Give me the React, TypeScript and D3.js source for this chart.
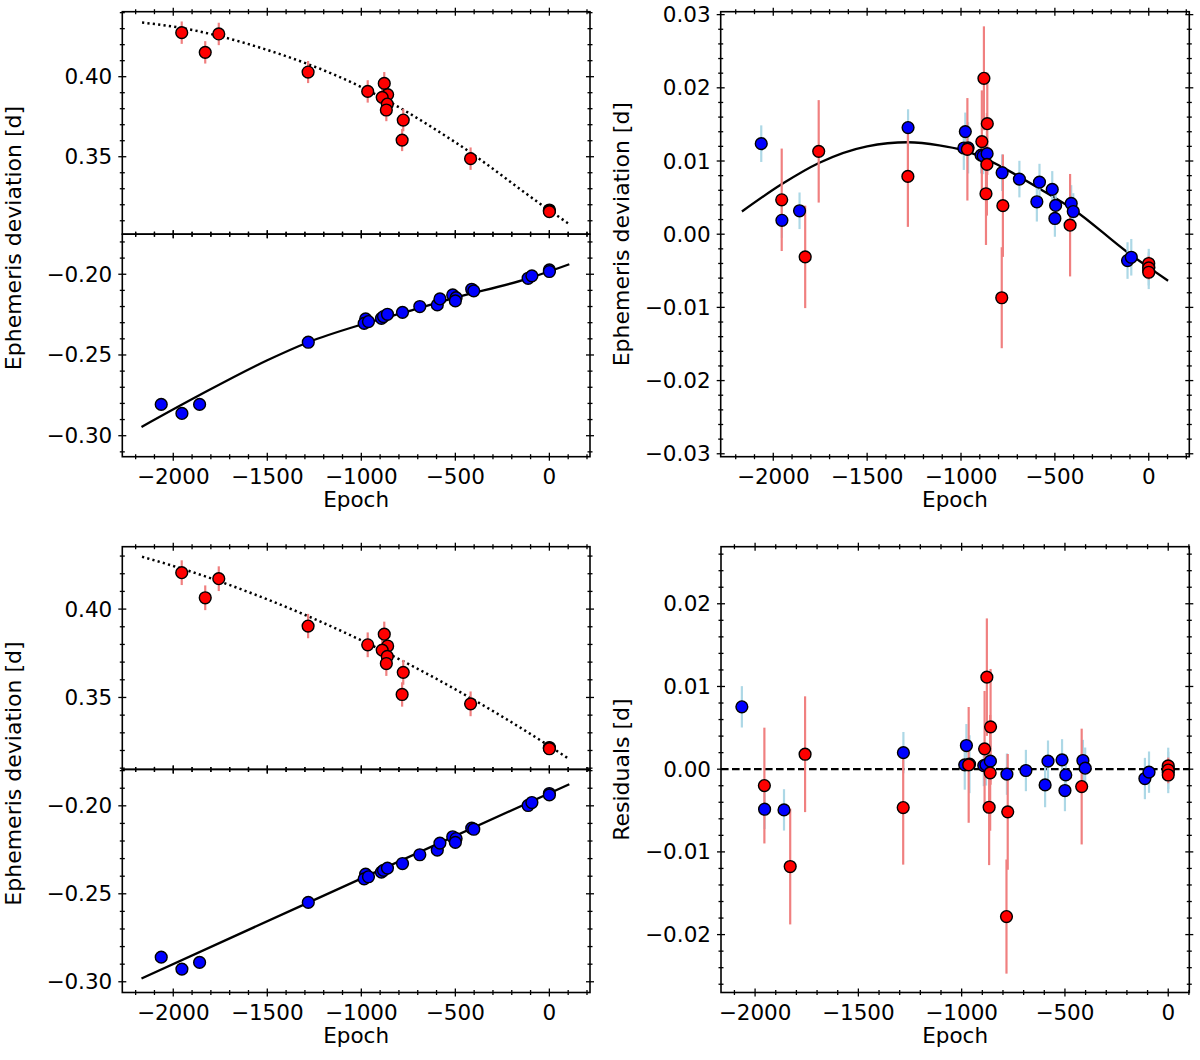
import * as d3 from "d3";

// ---- primary minima (blue) ----
const primEpoch = [-2064, -1954, -1860, -1282, -977, -985, -962, -893, -882, -861, -781, -689, -596, -582, -514, -496, -500, -413, -402, -113, -93, 0, 0];
const primErr = [0.0025, 0.0024, 0.0025, 0.0025, 0.0026, 0.003, 0.0035, 0.0025, 0.0025, 0.0025, 0.0025, 0.0025, 0.0027, 0.0025, 0.0025, 0.0025, 0.0025, 0.0025, 0.0025, 0.0025, 0.0025, 0.0025, 0.0025];
// O-C, upper model (top left, lower half)
const primOcA = [-0.2806, -0.2862, -0.2806, -0.2421, -0.2277, -0.2304, -0.2293, -0.2273, -0.2262, -0.2248, -0.2236, -0.22, -0.219, -0.2153, -0.2128, -0.2145, -0.2165, -0.2093, -0.2103, -0.2025, -0.201, -0.1973, -0.1983];
// deviation from fit (top right)
const primResA = [0.01237, 0.0019, 0.0032, 0.01457, 0.01402, 0.01178, 0.0118, 0.0108, 0.0107, 0.011, 0.0084, 0.00753, 0.00443, 0.00712, 0.00612, 0.00393, 0.00215, 0.0042, 0.0031, -0.0036, -0.00315, -0.0045, -0.005];
// O-C, lower model (bottom left, lower half)
const primOcB = [-0.286, -0.2928, -0.289, -0.2549, -0.2388, -0.2415, -0.2403, -0.2377, -0.2367, -0.2354, -0.2328, -0.2278, -0.2252, -0.2212, -0.2176, -0.2186, -0.2208, -0.2127, -0.2133, -0.1998, -0.1981, -0.193, -0.1938];
// residuals (bottom right)
const primResB = [0.00754, -0.00484, -0.00492, 0.002, 0.00286, 0.00052, 0.0006, 0.00044, 0.00052, 0.00097, -0.0006, -0.00016, -0.0019, 0.00097, 0.00113, -0.00069, -0.00258, 0.00105, 0.00012, -0.00113, -0.00036, 0.0001, -0.0004];

// ---- secondary minima (red) ----
const secEpoch = [-1955, -1830, -1758, -1283, -966, -878, -860, -889, -862, -867, -777, -783, -419, 0, 0, 0];
const secErr = [0.007, 0.007, 0.007, 0.0069, 0.007, 0.0071, 0.007, 0.007, 0.007, 0.007, 0.007, 0.0069, 0.007, 0.001, 0.001, 0.001];
const secOcA = [0.4275, 0.4152, 0.4267, 0.4029, 0.3908, 0.3958, 0.3888, 0.3871, 0.3829, 0.3792, 0.3729, 0.3604, 0.3488, 0.3167, 0.3162, 0.3157];
const secResA = [0.0047, -0.0031, 0.01132, 0.0079, 0.0116, 0.0213, 0.0151, 0.01265, 0.00954, 0.00553, 0.0039, -0.00868, 0.00123, -0.004, -0.0046, -0.0052];
const secOcB = [0.4206, 0.4064, 0.4172, 0.3904, 0.3798, 0.3858, 0.3791, 0.3768, 0.3732, 0.3692, 0.3642, 0.3517, 0.3464, 0.3217, 0.3213, 0.321];
const secResB = [-0.00198, -0.01177, 0.00181, -0.00464, 0.00052, 0.01113, 0.00512, 0.00246, -0.00044, -0.0046, -0.00516, -0.01782, -0.0021, 0.0004, -0.0001, -0.0007];

// ---- model curves ----
const fitSecAEpoch = [-2166, -2000, -1500, -1000, -500, 0, 106];
const fitSecAVal = [0.4338, 0.4313, 0.4167, 0.3935, 0.359, 0.3165, 0.3079];
const fitPrimAEpoch = [-2169, -1862, -1500, -1282, -1000, -777, -500, -115, 106];
const fitPrimAVal = [-0.2946, -0.275, -0.2533, -0.2421, -0.2312, -0.2238, -0.2145, -0.2027, -0.1938];
const fitResAEpoch = [-2167, -1954, -1757, -1500, -1282, -1116, -992, -894, -784, -583, -405, -112, 103];
const fitResAVal = [0.0031, 0.00685, 0.00973, 0.012, 0.01256, 0.01215, 0.0115, 0.0106, 0.0092, 0.00625, 0.00345, -0.0025, -0.00635];
const fitSecBEpoch = [-2166, -2000, -1500, -1000, -500, 0, 96];
const fitSecBVal = [0.4296, 0.4244, 0.4055, 0.3823, 0.3546, 0.3225, 0.3158];
const fitPrimBEpoch = [-2169, -1282, 106];
const fitPrimBVal = [-0.2981, -0.255, -0.1877];
const zeroLevel = 0;

// ---- ticks ----
const epochTicks = [-2000, -1500, -1000, -500, 0];
const ocUpperTicks = [0.35, 0.4];
const ocLowerTicks = [-0.3, -0.25, -0.2];
const resATicks = [-0.03, -0.02, -0.01, 0, 0.01, 0.02, 0.03];
const resBTicks = [-0.02, -0.01, 0, 0.01, 0.02];

const FONT = "'DejaVu Sans', sans-serif";
const FS = 21.5;
const FS_LABEL = 22;
const BLUE = "#0000ff";
const RED = "#ff0000";
const BLUE_BAR = "#add8e6";
const RED_BAR = "#f08080";

const colL = { x0: 122.3, x1: 590 };
const colR = { x0: 720.7, x1: 1189.3 };
const rowT = { y0: 11.7, mid: 234.2, y1: 456.7 };
const rowB = { y0: 546.7, mid: 769.4, y1: 992.5 };

type Lin = d3.ScaleLinear<number, number>;

function minorTicks(sc: Lin, step: number, major: number[]) {
  const [a, b] = sc.domain();
  const out: number[] = [];
  for (let k = Math.ceil(a / step - 1e-9); k * step <= b + 1e-12; k++) {
    const v = +(k * step).toFixed(6);
    if (!major.some((m) => Math.abs(m - v) < step / 10)) out.push(v);
  }
  return out;
}

function Frame({ sx, sy, xMajor, xStep, yMajor, yStep, xLabels }: {
  sx: Lin; sy: Lin; xMajor: number[]; xStep: number; yMajor: number[]; yStep: number; xLabels: boolean;
}) {
  const [x0, x1] = sx.range();
  const [y1, y0] = sy.range();
  const fmt = d3.format(".2f");
  const xMin = minorTicks(sx, xStep, xMajor);
  const yMin = minorTicks(sy, yStep, yMajor);
  const M = 4, m = 2.5;
  return (
    <g>
      <rect x={x0} y={y0} width={x1 - x0} height={y1 - y0} fill="none" stroke="#000" strokeWidth={1.6} />
      <g stroke="#000" strokeWidth={1.3}>
        {xMajor.map((t) => (
          <g key={"xM" + t}>
            <line x1={sx(t)} x2={sx(t)} y1={y0 - M} y2={y0 + M} />
            <line x1={sx(t)} x2={sx(t)} y1={y1 - M} y2={y1 + M} />
          </g>
        ))}
        {xMin.map((t) => (
          <g key={"xm" + t}>
            <line x1={sx(t)} x2={sx(t)} y1={y0 - m} y2={y0 + m} />
            <line x1={sx(t)} x2={sx(t)} y1={y1 - m} y2={y1 + m} />
          </g>
        ))}
        {yMajor.map((t) => (
          <g key={"yM" + t}>
            <line x1={x0 - M} x2={x0 + M} y1={sy(t)} y2={sy(t)} />
            <line x1={x1 - M} x2={x1 + M} y1={sy(t)} y2={sy(t)} />
          </g>
        ))}
        {yMin.map((t) => (
          <g key={"ym" + t}>
            <line x1={x0 - m} x2={x0 + m} y1={sy(t)} y2={sy(t)} />
            <line x1={x1 - m} x2={x1 + m} y1={sy(t)} y2={sy(t)} />
          </g>
        ))}
      </g>
      <g fontFamily={FONT} fontSize={FS} fill="#000">
        {yMajor.map((t) => (
          <text key={"yl" + t} x={x0 - 10} y={sy(t)} textAnchor="end" dominantBaseline="central">
            {fmt(t)}
          </text>
        ))}
        {xLabels &&
          xMajor.map((t) => (
            <text key={"xl" + t} x={sx(t)} y={y1 + 27.5} textAnchor="middle">
              {d3.format("d")(t)}
            </text>
          ))}
      </g>
    </g>
  );
}

function Bars({ xs, ys, es, sx, sy, color }: { xs: number[]; ys: number[]; es: number[]; sx: Lin; sy: Lin; color: string }) {
  return (
    <g stroke={color} strokeWidth={2.2}>
      {xs.map((e, i) => (
        <line key={i} x1={sx(e)} x2={sx(e)} y1={sy(ys[i] - es[i])} y2={sy(ys[i] + es[i])} />
      ))}
    </g>
  );
}

function Dots({ xs, ys, sx, sy, fill }: { xs: number[]; ys: number[]; sx: Lin; sy: Lin; fill: string }) {
  return (
    <g fill={fill} stroke="#000" strokeWidth={1.4}>
      {xs.map((e, i) => (
        <circle key={i} cx={sx(e)} cy={sy(ys[i])} r={5.9} />
      ))}
    </g>
  );
}

function Curve({ xs, ys, sx, sy, dash, width = 2.3, smooth = true }: {
  xs: number[]; ys: number[]; sx: Lin; sy: Lin; dash?: string; width?: number; smooth?: boolean;
}) {
  const line = d3
    .line<number>()
    .x((_, i) => sx(xs[i]))
    .y((v) => sy(v))
    .curve(smooth ? d3.curveMonotoneX : d3.curveLinear);
  return <path d={line(ys) ?? ""} fill="none" stroke="#000" strokeWidth={width} strokeDasharray={dash} />;
}

function YLabel({ x, y, text }: { x: number; y: number; text: string }) {
  return (
    <text transform={`translate(${x},${y}) rotate(-90)`} textAnchor="middle" fontFamily={FONT} fontSize={FS_LABEL} fill="#000">
      {text}
    </text>
  );
}

function XLabel({ x, y }: { x: number; y: number }) {
  return (
    <text x={x} y={y} textAnchor="middle" fontFamily={FONT} fontSize={FS} fill="#000">
      Epoch
    </text>
  );
}

export default function App() {
  const xL = d3.scaleLinear().domain([-2271, 216]).range([colL.x0, colL.x1]);
  const xR = d3.scaleLinear().domain([-2280, 216]).range([colR.x0, colR.x1]);
  const xRB = d3.scaleLinear().domain([-2165, 102]).range([721, colR.x1]);

  const yTLu = d3.scaleLinear().domain([0.3016, 0.4406]).range([rowT.mid, rowT.y0]);
  const yTLl = d3.scaleLinear().domain([-0.313, -0.1752]).range([rowT.y1, rowT.mid]);
  const yTR = d3.scaleLinear().domain([-0.0304, 0.0304]).range([rowT.y1, rowT.y0]);
  const yBLu = d3.scaleLinear().domain([0.3093, 0.4353]).range([rowB.mid, rowB.y0]);
  const yBLl = d3.scaleLinear().domain([-0.3061, -0.1793]).range([rowB.y1, rowB.mid]);
  const yBR = d3.scaleLinear().domain([-0.027, 0.0269]).range([rowB.y1, rowB.y0]);

  const [bx0, bx1] = xRB.domain();
  const dotted = "2.2 3.2";

  return (
    <svg width={1200} height={1060} style={{ position: "absolute", left: 0, top: 0 }}>
      <rect width={1200} height={1060} fill="#fff" />

      {/* top left, secondary */}
      <Curve xs={fitSecAEpoch} ys={fitSecAVal} sx={xL} sy={yTLu} dash={dotted} width={2.5} />
      <Bars xs={secEpoch} ys={secOcA} es={secErr} sx={xL} sy={yTLu} color={RED_BAR} />
      <Dots xs={secEpoch} ys={secOcA} sx={xL} sy={yTLu} fill={RED} />
      <Frame sx={xL} sy={yTLu} xMajor={epochTicks} xStep={100} yMajor={ocUpperTicks} yStep={0.01} xLabels={false} />

      {/* top left, primary */}
      <Curve xs={fitPrimAEpoch} ys={fitPrimAVal} sx={xL} sy={yTLl} />
      <Bars xs={primEpoch} ys={primOcA} es={primErr} sx={xL} sy={yTLl} color={BLUE_BAR} />
      <Dots xs={primEpoch} ys={primOcA} sx={xL} sy={yTLl} fill={BLUE} />
      <Frame sx={xL} sy={yTLl} xMajor={epochTicks} xStep={100} yMajor={ocLowerTicks} yStep={0.01} xLabels={true} />

      {/* top right */}
      <Curve xs={fitResAEpoch} ys={fitResAVal} sx={xR} sy={yTR} />
      <Bars xs={primEpoch} ys={primResA} es={primErr} sx={xR} sy={yTR} color={BLUE_BAR} />
      <Bars xs={secEpoch} ys={secResA} es={secErr} sx={xR} sy={yTR} color={RED_BAR} />
      <Dots xs={primEpoch} ys={primResA} sx={xR} sy={yTR} fill={BLUE} />
      <Dots xs={secEpoch} ys={secResA} sx={xR} sy={yTR} fill={RED} />
      <Frame sx={xR} sy={yTR} xMajor={epochTicks} xStep={100} yMajor={resATicks} yStep={0.002} xLabels={true} />

      {/* bottom left, secondary */}
      <Curve xs={fitSecBEpoch} ys={fitSecBVal} sx={xL} sy={yBLu} dash={dotted} width={2.5} />
      <Bars xs={secEpoch} ys={secOcB} es={secErr} sx={xL} sy={yBLu} color={RED_BAR} />
      <Dots xs={secEpoch} ys={secOcB} sx={xL} sy={yBLu} fill={RED} />
      <Frame sx={xL} sy={yBLu} xMajor={epochTicks} xStep={100} yMajor={ocUpperTicks} yStep={0.01} xLabels={false} />

      {/* bottom left, primary */}
      <Curve xs={fitPrimBEpoch} ys={fitPrimBVal} sx={xL} sy={yBLl} smooth={false} />
      <Bars xs={primEpoch} ys={primOcB} es={primErr} sx={xL} sy={yBLl} color={BLUE_BAR} />
      <Dots xs={primEpoch} ys={primOcB} sx={xL} sy={yBLl} fill={BLUE} />
      <Frame sx={xL} sy={yBLl} xMajor={epochTicks} xStep={100} yMajor={ocLowerTicks} yStep={0.01} xLabels={true} />

      {/* bottom right */}
      <line x1={xRB(bx0)} x2={xRB(bx1)} y1={yBR(zeroLevel)} y2={yBR(zeroLevel)} stroke="#000" strokeWidth={2.3} strokeDasharray="7.6 3.4" />
      <Bars xs={primEpoch} ys={primResB} es={primErr} sx={xRB} sy={yBR} color={BLUE_BAR} />
      <Bars xs={secEpoch} ys={secResB} es={secErr} sx={xRB} sy={yBR} color={RED_BAR} />
      <Dots xs={primEpoch} ys={primResB} sx={xRB} sy={yBR} fill={BLUE} />
      <Dots xs={secEpoch} ys={secResB} sx={xRB} sy={yBR} fill={RED} />
      <Frame sx={xRB} sy={yBR} xMajor={epochTicks} xStep={100} yMajor={resBTicks} yStep={0.002} xLabels={true} />

      <YLabel x={20.5} y={238} text="Ephemeris deviation [d]" />
      <YLabel x={629} y={234.2} text="Ephemeris deviation [d]" />
      <YLabel x={20.5} y={773.5} text="Ephemeris deviation [d]" />
      <YLabel x={629} y={769.6} text="Residuals [d]" />

      <XLabel x={(colL.x0 + colL.x1) / 2} y={rowT.y1 + 50.6} />
      <XLabel x={(colR.x0 + colR.x1) / 2} y={rowT.y1 + 50.6} />
      <XLabel x={(colL.x0 + colL.x1) / 2} y={rowB.y1 + 50.6} />
      <XLabel x={(721 + colR.x1) / 2} y={rowB.y1 + 50.6} />
    </svg>
  );
}
